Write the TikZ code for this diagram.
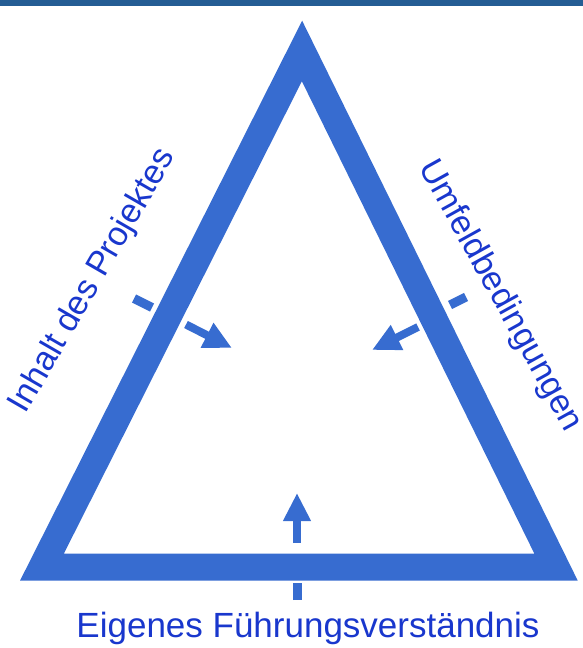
\documentclass[tikz,border=0pt]{standalone}
\usepackage{fontspec}
\setmainfont{Liberation Sans}
\usetikzlibrary{arrows.meta}
\definecolor{crayon}{RGB}{55,108,208}
\definecolor{labelblue}{RGB}{25,55,205}
\definecolor{topbar}{RGB}{36,93,148}
\tikzset{
  lbl/.style={text=labelblue, inner sep=0pt, font=\fontsize{34}{40}\selectfont},
  cue/.style={crayon, line width=9pt, line cap=butt},
  cuearrow/.style={crayon, line width=8pt, -{Triangle[width=26pt,length=28pt]}}
}
\begin{document}
\begin{tikzpicture}[x=1pt,y=1pt]
\useasboundingbox (0,0) rectangle (583,-648);
\fill[topbar] (0,0) rectangle (583,-5.5);
% triangle
\coordinate (top) at (302,-51);
\coordinate (bl) at (42,-567);
\coordinate (br) at (556,-567);
\draw[crayon, line width=27pt, line join=miter] (top) -- (bl) -- (br) -- cycle;
% arrows into the triangle
\coordinate (l1) at (134,-298.5);
\coordinate (l2) at (152,-307.5);
\coordinate (l3) at (186,-324.5);
\coordinate (l4) at (232,-348);
\coordinate (r1) at (466,-297);
\coordinate (r2) at (450,-305);
\coordinate (r3) at (418,-327);
\coordinate (r4) at (372,-350);
\coordinate (b1) at (297,-600);
\coordinate (b2) at (297,-583);
\coordinate (b3) at (297,-543);
\coordinate (b4) at (297,-493);
\draw[cue] (l1) -- (l2);
\draw[cuearrow] (l3) -- (l4);
\draw[cue] (r1) -- (r2);
\draw[cuearrow] (r3) -- (r4);
\draw[cue] (b1) -- (b2);
\draw[cuearrow] (b3) -- (b4);
% labels
\node[lbl, rotate=60] (inhalt) at (93,-281) {Inhalt des Projektes};
\node[lbl, rotate=-61] (umfeld) at (500,-296) {Umfeldbedingungen};
\node[lbl, anchor=base, font=\fontsize{35}{40}\selectfont] (eigen) at (308,-637) {Eigenes Führungsverständnis};
\end{tikzpicture}
\end{document}
